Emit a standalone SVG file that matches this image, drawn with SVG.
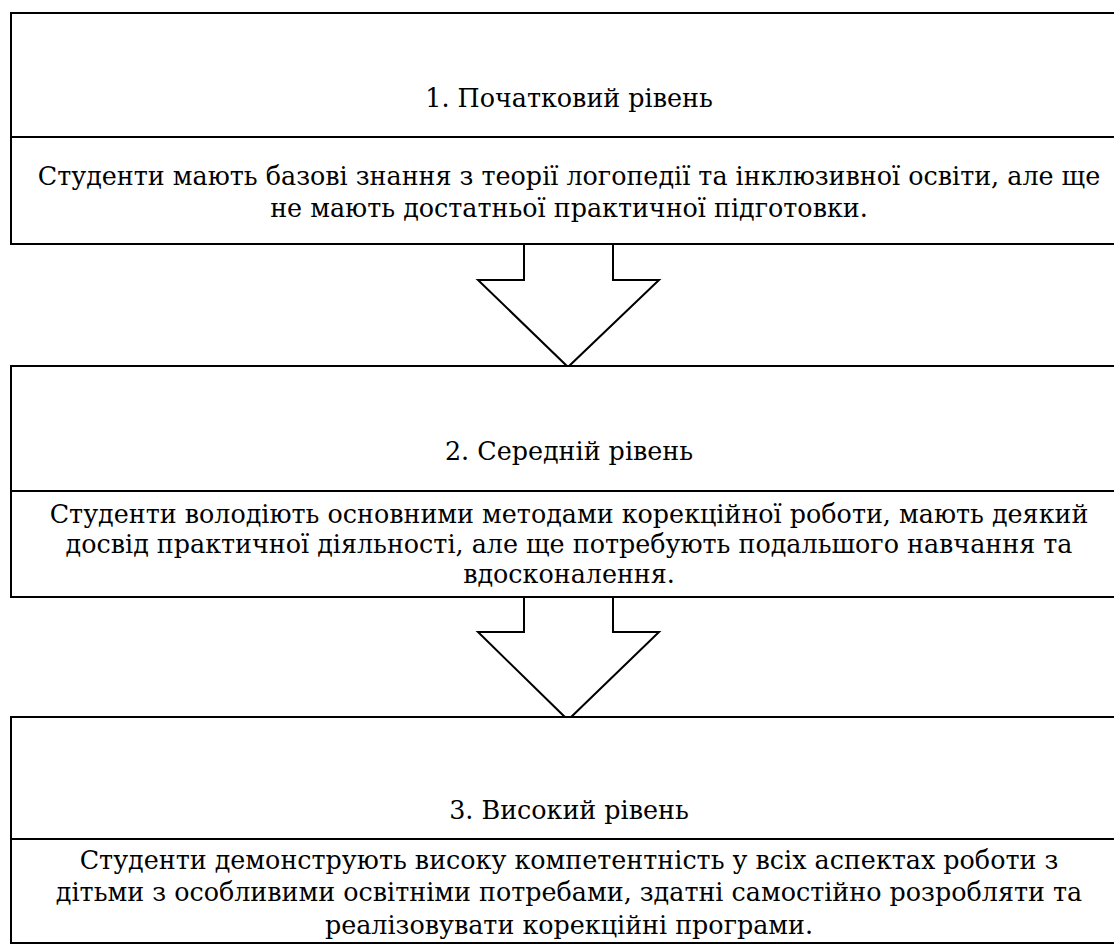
<svg xmlns="http://www.w3.org/2000/svg" width="1114" height="945" viewBox="0 0 1114 945">
<style>
.box{fill:#fff;stroke:#000;stroke-width:2}
.div{stroke:#000;stroke-width:2}
.arr{fill:#fff;stroke:#000;stroke-width:2;stroke-linejoin:miter}
.t{font-family:"DejaVu Serif","Liberation Serif",serif;font-size:25.4px;fill:#000;text-anchor:middle}
</style>
<rect width="1114" height="945" fill="#fff"/>
<g id="connectors">
<polygon class="arr" points="524,244 613,244 613,280 659,280 568,367 478,280 524,280"/>
<polygon class="arr" points="524,597 613,597 613,632 659,632 568,720 478,632 524,632"/>
</g>
<g id="node1" class="t">
<rect class="box" x="11" y="13" width="1120" height="231"/>
<line class="div" x1="11" y1="137" x2="1131" y2="137"/>
<text x="569" y="107">1. Початковий рівень</text>
<text x="569" y="185">Студенти мають базові знання з теорії логопедії та інклюзивної освіти, але ще</text>
<text x="569" y="217">не мають достатньої практичної підготовки.</text>
</g>
<g id="node2" class="t">
<rect class="box" x="11" y="366" width="1120" height="231"/>
<line class="div" x1="11" y1="491" x2="1131" y2="491"/>
<text x="569" y="460">2. Середній рівень</text>
<text x="569" y="523">Студенти володіють основними методами корекційної роботи, мають деякий</text>
<text x="569" y="553">досвід практичної діяльності, але ще потребують подальшого навчання та</text>
<text x="569" y="583">вдосконалення.</text>
</g>
<g id="node3" class="t">
<rect class="box" x="11" y="717" width="1120" height="226"/>
<line class="div" x1="11" y1="839" x2="1131" y2="839"/>
<text x="569" y="819">3. Високий рівень</text>
<text x="569" y="869">Студенти демонструють високу компетентність у всіх аспектах роботи з</text>
<text x="569" y="901">дітьми з особливими освітніми потребами, здатні самостійно розробляти та</text>
<text x="569" y="934">реалізовувати корекційні програми.</text>
</g>
</svg>
